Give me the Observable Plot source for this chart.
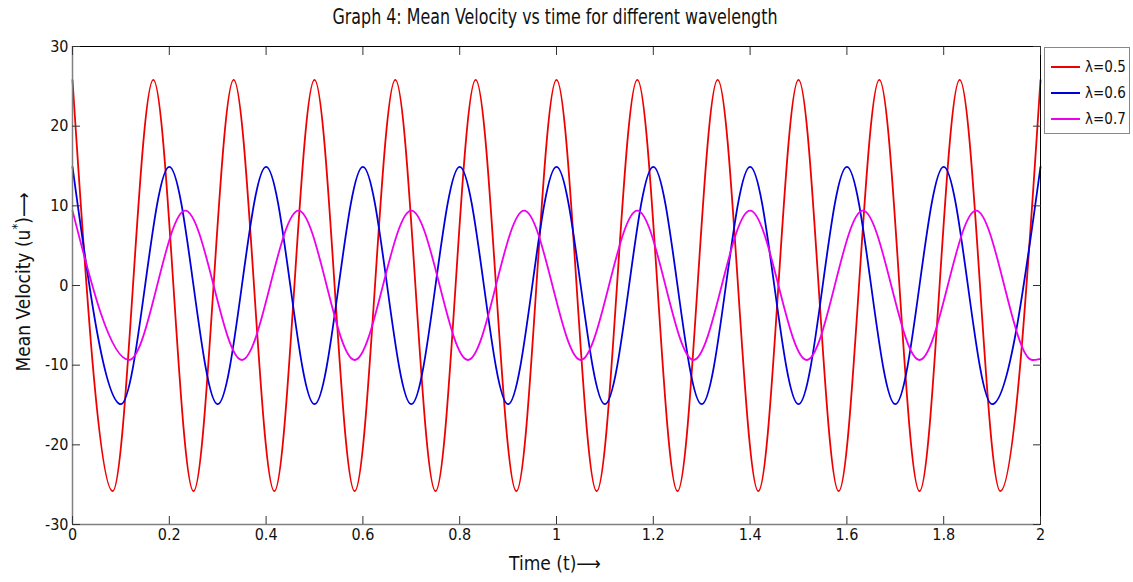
<!DOCTYPE html>
<html><head><meta charset="utf-8">
<script src="https://cdn.jsdelivr.net/npm/d3@7"></script>
<script src="https://cdn.jsdelivr.net/npm/@observablehq/plot@0.6"></script>
<style>
body{margin:0;background:#fff;}
#wrap{position:relative;width:1133px;height:582px;font-family:"Liberation Sans Narrow","DejaVu Sans Condensed",sans-serif;color:#111;}
#title{position:absolute;left:555px;top:5px;transform:translateX(-50%) scaleX(0.84);font-size:21px;white-space:nowrap;}
#legend{position:absolute;left:1044px;top:47px;width:86px;height:87px;border:1px solid #888;background:#fff;box-sizing:border-box;}
.li{position:absolute;left:6px;height:20px;display:flex;align-items:center;font-size:15px;white-space:nowrap;}
.li span.sw{display:inline-block;width:29px;height:2px;margin-right:5px;}
</style></head>
<body><div id="wrap"><div id="title">Graph 4: Mean Velocity vs time for different wavelength</div></div>
<script>
// λ=0.5 (red) extrema
const redT = [0,0.083,0.167,0.25,0.333,0.417,0.5,0.583,0.667,0.75,0.833,0.917,1.0,1.083,1.167,1.25,1.333,1.417,1.5,1.583,1.667,1.75,1.833,1.917,2.0];
const redV = [25.8,-25.8,25.8,-25.8,25.8,-25.8,25.8,-25.8,25.8,-25.8,25.8,-25.8,25.8,-25.8,25.8,-25.8,25.8,-25.8,25.8,-25.8,25.8,-25.8,25.8,-25.8,25.8];
// λ=0.6 (blue)
const blueT = [0,0.1,0.2,0.3,0.4,0.5,0.6,0.7,0.8,0.9,1.0,1.1,1.2,1.3,1.4,1.5,1.6,1.7,1.8,1.9,2.0];
const blueV = [14.9,-14.9,14.9,-14.9,14.9,-14.9,14.9,-14.9,14.9,-14.9,14.9,-14.9,14.9,-14.9,14.9,-14.9,14.9,-14.9,14.9,-14.9,14.9];
// λ=0.7 (magenta)
const magT = [0,0.117,0.233,0.35,0.467,0.583,0.7,0.817,0.933,1.05,1.167,1.283,1.4,1.517,1.633,1.75,1.867,1.983,2.0];
const magV = [9.4,-9.35,9.4,-9.35,9.4,-9.35,9.4,-9.35,9.4,-9.35,9.4,-9.35,9.4,-9.35,9.4,-9.35,9.4,-9.35,-9.2];

const seriesNames = ["λ=0.5","λ=0.6","λ=0.7"];
const seriesColors = ["#ee0000","#0000dd","#ee00ee"];
const xTicks = [0,0.2,0.4,0.6,0.8,1,1.2,1.4,1.6,1.8,2];
const yTicks = [-30,-20,-10,0,10,20,30];
const xDomain = [0,2], yDomain = [-30,30];

const rows = (T,V) => T.map((t,i)=>({t, v:V[i]}));
const sets = [rows(redT,redV), rows(blueT,blueV), rows(magT,magV)];

const font = '"Liberation Sans Narrow","DejaVu Sans Condensed",sans-serif';
const fmt = d => String(d);
const chart = Plot.plot({
  width:1133, height:582,
  marginLeft:72, marginRight:93, marginTop:46, marginBottom:58,
  style:{fontFamily:font, fontSize:"16px", color:"#111", background:"transparent"},
  x:{domain:xDomain}, y:{domain:yDomain},
  marks:[
    ...sets.map((d,i)=>Plot.line(d,{x:"t",y:"v",stroke:seriesColors[i],strokeWidth:1.8,curve:"monotone-x"})),
    Plot.frame({stroke:"#000", strokeWidth:1}),
    Plot.ruleX([xDomain[0]],{stroke:"#808080",strokeWidth:1.5}),
    Plot.ruleY([yDomain[0]],{stroke:"#808080",strokeWidth:1.5}),
    Plot.axisY({anchor:"left", ticks:yTicks, tickSize:-8, tickPadding:12, label:null, stroke:"#333", fontSize:16, tickFormat:fmt}),
    Plot.axisY({anchor:"right", ticks:yTicks, tickSize:-8, tickFormat:()=>"", label:null, stroke:"#333"}),
    Plot.axisX({anchor:"bottom", ticks:xTicks, tickSize:-8, tickPadding:12, label:null, stroke:"#333", fontSize:16, tickFormat:fmt}),
    Plot.axisX({anchor:"top", ticks:xTicks, tickSize:-8, tickFormat:()=>"", label:null, stroke:"#333"})
  ]
});
const wrap = document.getElementById("wrap");
wrap.prepend(chart);
const svg = d3.select(chart);
const yl = svg.append("text").attr("transform","translate(30,282) rotate(-90)")
  .attr("text-anchor","middle").attr("font-size",19).attr("fill","#111");
yl.append("tspan").text("Mean Velocity (u");
yl.append("tspan").attr("dy",-9).attr("font-size",13).text("*");
yl.append("tspan").attr("dy",9).text(")⟶");
svg.append("text").attr("x",555).attr("y",570).attr("text-anchor","middle")
  .attr("font-size",19).attr("fill","#111").text("Time (t)⟶");

const leg = document.createElement("div"); leg.id="legend";
seriesNames.forEach((n,i)=>{
  const r=document.createElement("div"); r.className="li"; r.style.top=(9+i*26)+"px";
  const s=document.createElement("span"); s.className="sw"; s.style.background=seriesColors[i];
  r.appendChild(s); r.appendChild(document.createTextNode(n)); leg.appendChild(r);
});
wrap.appendChild(leg);
chart.style.position="absolute"; chart.style.left="0"; chart.style.top="0";
</script></body></html>
